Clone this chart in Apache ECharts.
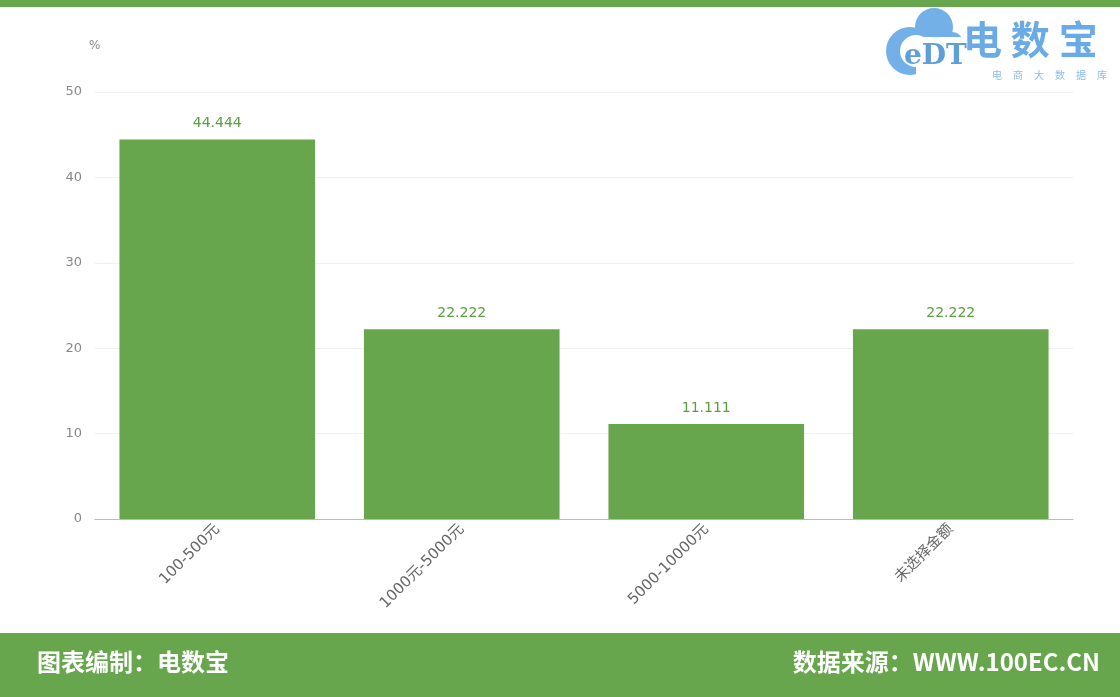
<!DOCTYPE html>
<html>
<head>
<meta charset="utf-8">
<script src="https://cdn.jsdelivr.net/npm/echarts@6/dist/echarts.min.js"></script>
<style>
  html, body { margin: 0; padding: 0; background: #fff; }
  #chart { width: 1120px; height: 697px; }
</style>
</head>
<body>
<div id="chart"></div>
<script>
// Spending ranges and their share (%)
const categories = ['100-500元', '1000元-5000元', '5000-10000元', '未选择金额'];
const shares = [44.444, 22.222, 11.111, 22.222];
const yTicks = { min: 0, max: 50, interval: 10 };

const GREEN = '#68a64e';
const FONT = '"DejaVu Sans", "Noto Sans CJK SC", sans-serif';
const CJK = '"Noto Sans CJK SC", sans-serif';
const BLUE = '#74b0e8';

// brand subtitle, one glyph per slot
const subtitleChars = '电商大数据库'.split('').map((ch, i) => ({
  type: 'text', left: 992 + i * 21, top: 70,
  style: { text: ch, fill: '#8bbcea', font: '10px ' + CJK }
}));

const chart = echarts.init(document.getElementById('chart'));
chart.setOption({
  animation: false,
  backgroundColor: '#fff',
  textStyle: { fontFamily: FONT },
  grid: { left: 95, right: 47, top: 92, bottom: 178 },
  xAxis: {
    type: 'category',
    data: categories,
    axisLine: { lineStyle: { color: '#bbb' } },
    axisTick: { show: false },
    axisLabel: { rotate: 45, color: '#666', fontSize: 15, margin: 8, fontFamily: FONT }
  },
  yAxis: {
    type: 'value',
    name: '%',
    nameGap: 40,
    nameTextStyle: { color: '#888', fontSize: 12, align: 'left', padding: [0, 0, 0, -6] },
    min: yTicks.min, max: yTicks.max, interval: yTicks.interval,
    axisLine: { show: false },
    axisTick: { show: false },
    axisLabel: { color: '#888', fontSize: 13, margin: 13, fontFamily: FONT },
    splitLine: { lineStyle: { color: '#f0f0f0' } }
  },
  series: [{
    type: 'bar',
    data: shares,
    barWidth: '80%',
    itemStyle: { color: GREEN },
    label: {
      show: true, position: 'top', color: '#5aa040', fontSize: 14, distance: 9, fontFamily: FONT,
      formatter: p => p.value.toFixed(3)
    }
  }],
  graphic: [
    // logo: cloud with eDT
    { type: 'group', left: 886, top: 8, children: [
      { type: 'circle', shape: { cx: 48, cy: 24, r: 19 }, style: { fill: BLUE } },
      { type: 'circle', shape: { cx: 24, cy: 48, r: 24 }, style: { fill: BLUE } },
      { type: 'circle', shape: { cx: 66, cy: 40, r: 11 }, style: { fill: BLUE } },
      { type: 'circle', shape: { cx: 30, cy: 48, r: 16 }, style: { fill: '#fff' } },
      { type: 'rect', shape: { x: 30, y: 34, width: 50, height: 42 }, style: { fill: '#fff' } },
      { type: 'text', x: 18, y: 40, style: { text: 'eDT', fill: '#5f9fd9', font: 'bold 28px "DejaVu Serif", serif' } }
    ] },
    // top band
    { type: 'rect', left: 0, top: 0, shape: { width: 1120, height: 7 }, style: { fill: GREEN } },
    { type: 'text', left: 963, top: 20, style: { text: '电 数 宝', fill: '#6aaae6', font: 'bold 39px ' + CJK } },
    ...subtitleChars,
    // footer band
    { type: 'rect', left: 0, top: 633, shape: { width: 1120, height: 64 }, style: { fill: GREEN } },
    { type: 'text', left: 37, top: 650, style: { text: '图表编制：电数宝', fill: '#fff', font: 'bold 24px ' + CJK } },
    { type: 'text', right: 20, top: 650, style: { text: '数据来源：WWW.100EC.CN', fill: '#fff', font: 'bold 24px ' + CJK } }
  ]
});
</script>
</body>
</html>
